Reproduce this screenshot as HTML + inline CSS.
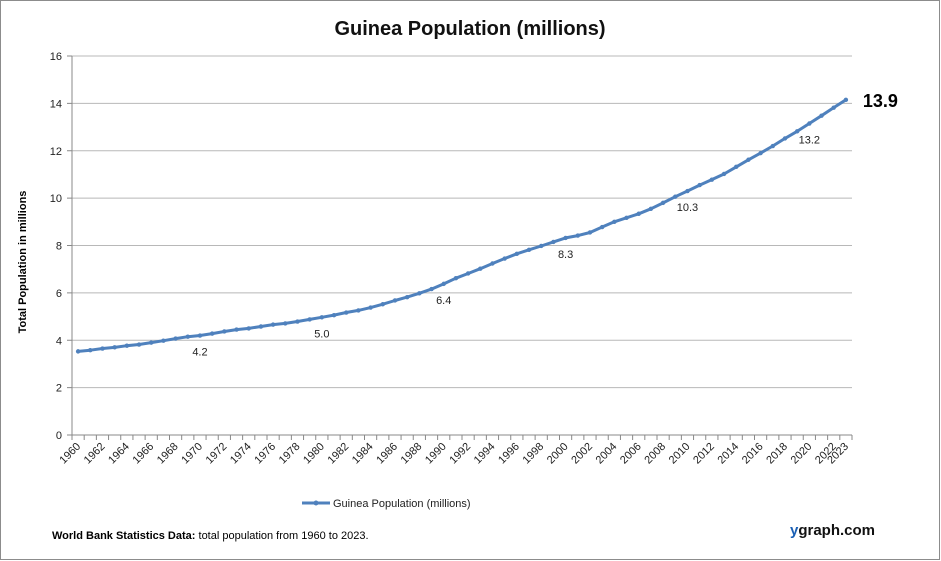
<!DOCTYPE html>
<html><head><meta charset="utf-8">
<style>
body{margin:0;background:#fff;}
#wrap{position:relative;width:941px;height:561px;overflow:hidden;font-family:"Liberation Sans",sans-serif;}
svg text{font-family:"Liberation Sans","DejaVu Sans",sans-serif;}
</style></head>
<body>
<div id="wrap">
<svg id="chart" width="941" height="561">
<rect x="0.5" y="0.5" width="939" height="559" fill="#fff" stroke="#8c8c8c"/>
<text x="470" y="35" text-anchor="middle" font-size="20" font-weight="bold" fill="#111">Guinea Population (millions)</text>
<text transform="translate(26,262) rotate(-90)" text-anchor="middle" font-size="11" font-weight="bold" fill="#000">Total Population  in millions</text>
<g id="grid"></g><g id="xaxis"></g><g id="series"></g><g id="labels"></g>
<line x1="302" y1="503" x2="330" y2="503" stroke="#4f81bd" stroke-width="3"/>
<circle cx="316" cy="503" r="2.5" fill="#4f81bd"/>
<text x="333" y="507" font-size="11" fill="#222">Guinea Population (millions)</text>
<text x="52" y="539" font-size="11" fill="#000"><tspan font-weight="bold">World Bank Statistics Data:</tspan> total population from 1960 to 2023.</text>
<text x="790" y="535" font-size="15" font-weight="bold" fill="#111"><tspan fill="#1a5fb4">y</tspan>graph.com</text>
</svg>
</div>
<script>
const years = [];
for (let y = 1960; y <= 2023; y++) years.push(y);
const population = [3.53,3.58,3.65,3.70,3.77,3.82,3.90,3.98,4.07,4.15,4.20,4.28,4.37,4.45,4.50,4.58,4.66,4.71,4.79,4.88,4.97,5.06,5.17,5.26,5.38,5.52,5.68,5.82,5.98,6.16,6.38,6.62,6.82,7.02,7.24,7.45,7.65,7.82,7.98,8.15,8.32,8.42,8.55,8.78,9.00,9.17,9.34,9.55,9.80,10.06,10.30,10.55,10.78,11.02,11.32,11.62,11.90,12.20,12.52,12.82,13.15,13.48,13.82,14.15];
const yTicks = [0,2,4,6,8,10,12,14,16];
const labelYears = [1970,1980,1990,2000,2010,2020];
const labelTexts = ["4.2","5.0","6.4","8.3","10.3","13.2"];
const finalLabel = "13.9";

const NS="http://www.w3.org/2000/svg";
const X0=72,X1=852,Y0=435,Y1=56,YMAX=16;
const step=(X1-X0)/years.length;
function xScale(i){return X0+step*(i+0.5);}
function yScale(v){return Y0-(v/YMAX)*(Y0-Y1);}
function mk(tag,attrs,parent){const e=document.createElementNS(NS,tag);for(const k in attrs)e.setAttribute(k,attrs[k]);parent.appendChild(e);return e;}
const grid=document.getElementById('grid'),xa=document.getElementById('xaxis'),ser=document.getElementById('series'),lab=document.getElementById('labels');

yTicks.forEach(v=>{
  const y=yScale(v);
  if(v>0){const l=mk('line',{x1:X0,x2:X1,y1:y,y2:y,stroke:'#b8b8b8','stroke-width':1},grid);
  
  }
  const tk=mk('line',{x1:X0-5,x2:X0,y1:y,y2:y,stroke:'#888'},grid);
  
  
  const t=mk('text',{x:X0-10,y:y+4,'text-anchor':'end','font-size':11,fill:'#222'},grid);
  t.textContent=v;
  
  
});
const ax=mk('line',{x1:X0,x2:X0,y1:Y1,y2:Y0,stroke:'#888'},xa);


const bx=mk('line',{x1:X0,x2:X1,y1:Y0,y2:Y0,stroke:'#888'},xa);


for(let i=0;i<=years.length;i++){
  const x=X0+step*i;
  const tk=mk('line',{x1:x,x2:x,y1:Y0,y2:Y0+5,stroke:'#888'},xa);
  
  
}
years.forEach((yr,i)=>{
  if(yr%2===0||i===years.length-1){
    const x=xScale(i)+3,y=Y0+12;
    const t=mk('text',{x:x,y:y,'text-anchor':'end','font-size':11,fill:'#222',transform:`rotate(-45 ${x} ${y})`},xa);
    t.textContent=yr;
    
    
  }
});
const pts=population.map((v,i)=>xScale(i).toFixed(1)+','+yScale(v).toFixed(1)).join(' ');
const line=mk('polyline',{points:pts,fill:'none',stroke:'#4f81bd','stroke-width':3,'stroke-linejoin':'round'},ser);


population.forEach((v,i)=>{
  const c=mk('circle',{cx:xScale(i),cy:yScale(v),r:2.2,fill:'#4f81bd'},ser);
  
  
});
labelYears.forEach((yr,k)=>{
  const i=years.indexOf(yr);
  const t=mk('text',{x:xScale(i),y:yScale(population[i])+20,'text-anchor':'middle','font-size':11,fill:'#222'},lab);
  t.textContent=labelTexts[k];
  
  
});
const li=years.length-1;
const fl=mk('text',{x:xScale(li)+17,y:yScale(population[li])+7,'font-size':18,'font-weight':'bold',fill:'#000'},lab);
fl.textContent=finalLabel;


</script>
</body></html>
